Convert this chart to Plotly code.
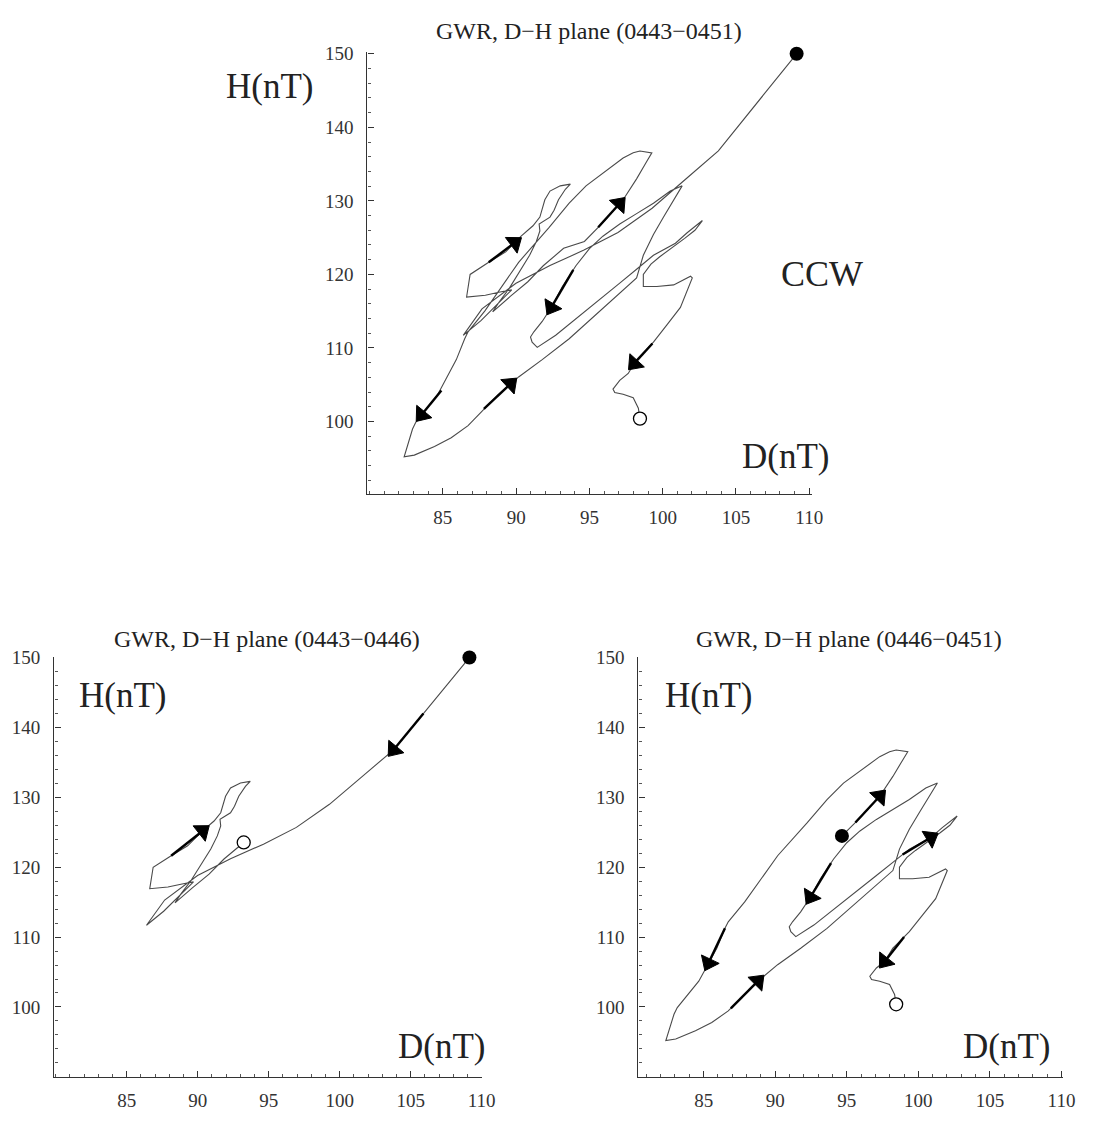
import plotly.graph_objects as go

# ---------------- data ----------------
# interval 0443-0446 (D, H in nT)
D1 = [109.14, 106.47, 103.8, 101.6, 99.28, 96.95, 94.63, 92.31, 89.99, 87.67, 86.39,
      87.6, 88.9, 89.7, 88.9, 87.9, 86.62, 86.74, 86.86, 88.13, 89.29, 90.34, 91.15,
      91.62, 91.96, 92.31, 93.01, 93.70, 93.36, 92.89, 92.59, 92.31, 91.57, 91.62,
      91.38, 90.92, 90.22, 89.53, 88.83, 88.4, 89.6, 90.8, 91.85, 93.24]
H1 = [150.0, 143.38, 136.8, 133.0, 129.0, 125.7, 123.3, 121.2, 118.8, 115.3, 111.7,
      113.7, 116.3, 117.9, 117.6, 117.16, 116.92, 118.81, 119.99, 121.64, 123.06, 125.19,
      126.61, 127.79, 130.15, 131.33, 132.04, 132.28, 131.57, 130.15, 128.73, 127.79,
      126.84, 125.9, 124.48, 122.59, 120.23, 118.1, 116.21, 114.9, 117.0, 119.0, 121.17,
      123.54]

# interval 0446-0451
D2 = [94.66, 96.0, 97.30, 98.22, 98.91, 99.26, 98.45, 97.99, 97.30, 96.84, 95.92, 94.77,
      93.62, 92.24, 90.17, 87.87, 86.72, 86.49, 85.92, 85.34, 84.66, 83.16, 82.93, 82.36,
      83.05, 84.43, 85.57, 86.72, 87.64, 88.79, 90.17, 91.78, 93.62, 95.46, 97.07, 98.22,
      98.68, 99.37, 100.06, 100.75, 101.33,
      100.52, 99.37, 98.22, 97.07, 95.92, 95.0, 94.08, 93.16, 92.47, 91.78, 91.21, 90.98,
      91.09, 91.44,
      92.70, 94.77, 97.07, 98.22, 99.37, 100.87, 101.67, 102.71,
      102.2, 101.5, 100.5, 99.8, 99.2, 98.68, 98.68, 99.60, 100.75, 101.90, 102.02, 101.67,
      101.21, 100.29, 99.37, 98.68, 98.22, 97.65, 97.07, 96.61, 96.73, 97.30, 97.99, 98.34,
      98.45]
H2 = [124.48, 127.2, 130.15, 132.99, 135.35, 136.53, 136.77, 136.53, 135.82, 135.11,
      133.70, 132.04, 129.68, 126.37, 121.64, 115.03, 112.19, 111.25, 108.41, 106.29,
      103.69, 99.91, 98.96, 95.18, 95.42, 96.60, 97.78, 99.43, 101.32, 103.69, 106.05,
      108.41, 111.25, 114.56, 117.39, 119.52,
      122.59, 125.43, 127.79, 130.15, 132.04,
      131.33, 129.68, 128.26, 126.84, 125.19, 123.5, 121.17, 118.34, 115.74, 113.6, 112.19,
      111.48, 110.78, 110.07,
      111.72, 115.03, 118.81, 120.70, 122.59, 124.24, 125.66, 127.32,
      126.0, 124.9, 123.5, 122.4, 121.4, 120.0, 118.34, 118.34, 118.57, 119.75, 119.52,
      117.86, 115.5, 113.14, 110.78, 109.36, 108.41, 106.52, 105.58, 104.40, 103.92,
      103.69, 103.21, 101.80, 100.38]

# arrows: tail -> head (direction of travel)
top_arrow_tail_D = [95.6, 88.13, 93.9, 84.9, 87.8, 99.3]
top_arrow_tail_H = [126.4, 121.64, 120.6, 104.2, 101.7, 110.6]
top_arrow_head_D = [97.05, 89.9, 92.4, 83.55, 89.62, 98.06]
top_arrow_head_H = [129.6, 124.3, 115.5, 100.9, 105.1, 107.88]

bl_arrow_tail_D = [105.9, 88.13]
bl_arrow_tail_H = [142.0, 121.64]
bl_arrow_head_D = [103.8, 90.34]
bl_arrow_head_H = [136.8, 125.19]

br_arrow_tail_D = [95.6, 93.9, 86.49, 86.9, 98.9, 99.0]
br_arrow_tail_H = [126.4, 120.6, 111.25, 99.8, 121.82, 110.0]
br_arrow_head_D = [97.30, 92.47, 85.34, 88.79, 100.87, 97.65]
br_arrow_head_H = [130.15, 115.74, 106.29, 103.69, 124.24, 106.52]

x_ticks = [85, 90, 95, 100, 105, 110]
y_ticks = [100, 110, 120, 130, 140, 150]

titles = ["GWR, D\u2212H plane (0443\u22120451)",
          "GWR, D\u2212H plane (0443\u22120446)",
          "GWR, D\u2212H plane (0446\u22120451)"]

# ---------------- figure ----------------
W, Hpx = 1119, 1138
SERIF = "Liberation Serif, Times New Roman, serif"
LINE = "#4a4a4a"

fig = go.Figure()


def add_panel(xa, ya, D, H, tD, tH, hD, hH):
    fig.add_trace(go.Scatter(x=D, y=H, mode="lines", xaxis=xa, yaxis=ya,
                             line=dict(color=LINE, width=1.1), hoverinfo="skip",
                             showlegend=False))
    for i in range(len(tD)):
        fig.add_trace(go.Scatter(x=[tD[i], hD[i]], y=[tH[i], hH[i]], mode="lines+markers",
                                 xaxis=xa, yaxis=ya, cliponaxis=False,
                                 line=dict(color="black", width=2.4),
                                 marker=dict(symbol="triangle-up", size=[0, 17], color="black",
                                             opacity=1, angleref="previous",
                                             line=dict(width=1, color="black")),
                                 hoverinfo="skip", showlegend=False))
    fig.add_trace(go.Scatter(x=[D[0]], y=[H[0]], mode="markers", xaxis=xa, yaxis=ya,
                             cliponaxis=False,
                             marker=dict(symbol="circle", size=14, color="black"),
                             hoverinfo="skip", showlegend=False))
    fig.add_trace(go.Scatter(x=[D[-1]], y=[H[-1]], mode="markers", xaxis=xa, yaxis=ya,
                             cliponaxis=False,
                             marker=dict(symbol="circle", size=13, color="white",
                                         line=dict(color="black", width=1.3)),
                             hoverinfo="skip", showlegend=False))


add_panel("x", "y", D1 + D2, H1 + H2, top_arrow_tail_D, top_arrow_tail_H,
          top_arrow_head_D, top_arrow_head_H)
add_panel("x2", "y2", D1, H1, bl_arrow_tail_D, bl_arrow_tail_H,
          bl_arrow_head_D, bl_arrow_head_H)
add_panel("x3", "y3", D2, H2, br_arrow_tail_D, br_arrow_tail_H,
          br_arrow_head_D, br_arrow_head_H)


def px_x(a, b):
    return [a / W, b / W]


def px_y(top, bottom):
    return [1 - bottom / Hpx, 1 - top / Hpx]


def xaxis(dom, rng, anchor):
    return dict(domain=dom, range=rng, anchor=anchor, showline=True, linecolor="#333",
                linewidth=1.4, showgrid=False, zeroline=False, ticks="inside",
                ticklen=6, tickwidth=1.2, tickcolor="#333", tickmode="array",
                tickvals=x_ticks, ticktext=[str(v) for v in x_ticks],
                tickfont=dict(family=SERIF, size=19, color="#333"),
                ticklabelstandoff=6,
                minor=dict(tickmode="linear", tick0=80, dtick=1, ticks="inside",
                           ticklen=3, tickcolor="#555", tickwidth=1))


def yaxis(dom, rng, anchor):
    return dict(domain=dom, range=rng, anchor=anchor, showline=True, linecolor="#333",
                linewidth=1.4, showgrid=False, zeroline=False, ticks="inside",
                ticklen=6, tickwidth=1.2, tickcolor="#333", tickmode="array",
                tickvals=y_ticks, ticktext=[str(v) for v in y_ticks],
                tickfont=dict(family=SERIF, size=19, color="#333"),
                ticklabelstandoff=9,
                minor=dict(tickmode="linear", tick0=90, dtick=2, ticks="inside",
                           ticklen=3, tickcolor="#555", tickwidth=1))


fig.update_layout(
    width=W, height=Hpx, margin=dict(l=0, r=0, t=0, b=0),
    paper_bgcolor="white", plot_bgcolor="white", showlegend=False,
    xaxis=xaxis(px_x(371.7, 821.7), [79.85, 110.2], "y"),
    yaxis=yaxis(px_y(42.7, 488.5), [90.1, 150.2], "x"),
    xaxis2=xaxis(px_x(55, 488), [79.9, 110.05], "y2"),
    yaxis2=yaxis(px_y(652.6, 1076.3), [90, 150.1], "x2"),
    xaxis3=xaxis(px_x(646, 1075), [80.45, 110.07], "y3"),
    yaxis3=yaxis(px_y(652.6, 1076.3), [90, 150.1], "x3"),
)


def ann(text, xpx, ypx, size):
    fig.add_annotation(text=text, x=xpx / W, y=1 - ypx / Hpx, xref="paper", yref="paper",
                       showarrow=False, xanchor="center", yanchor="middle",
                       font=dict(family=SERIF, size=size, color="#222"))


ann(titles[0], 596, 21, 24)
ann(titles[1], 270, 635, 24)
ann(titles[2], 859, 635, 24)
ann("H(nT)", 273, 77, 35)
ann("D(nT)", 795, 450, 35)
ann("CCW", 832, 266, 36)
ann("H(nT)", 124, 692, 35)
ann("D(nT)", 447, 1046, 35)
ann("H(nT)", 717, 692, 35)
ann("D(nT)", 1018, 1046, 35)

fig.write_html("out.html")
